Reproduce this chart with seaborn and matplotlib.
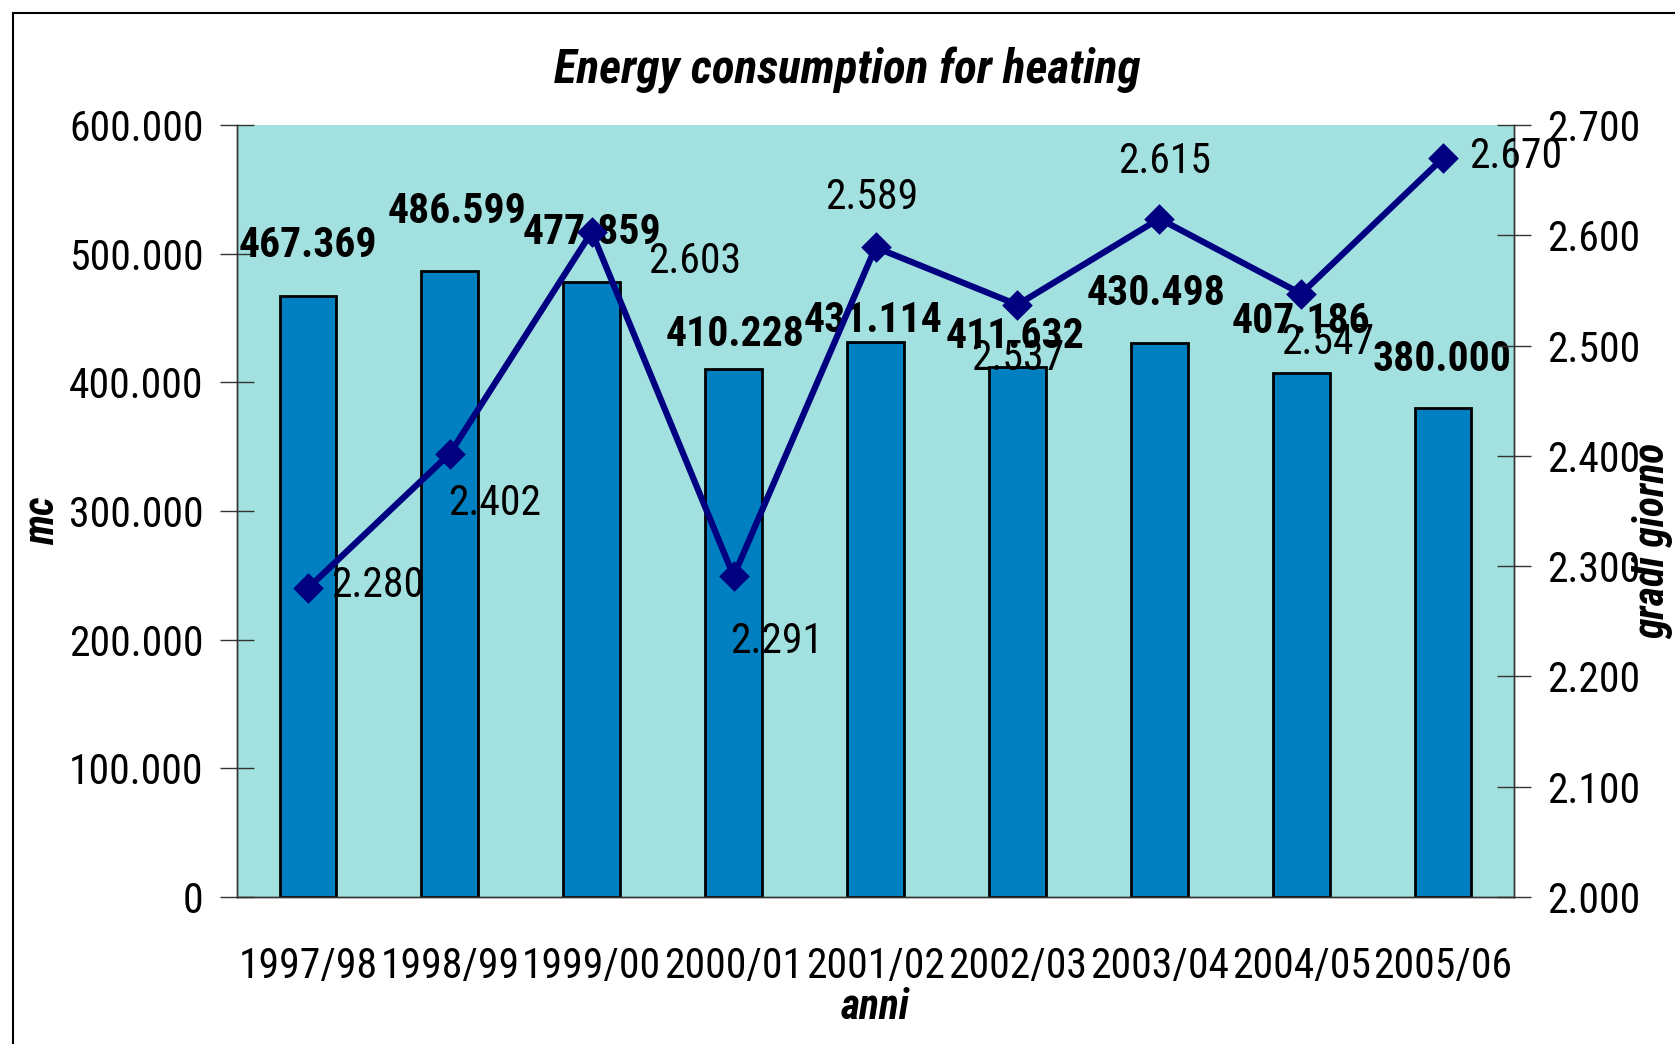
import matplotlib
matplotlib.use("Agg")
import matplotlib.pyplot as plt
from matplotlib.patches import Rectangle
from matplotlib.ticker import FuncFormatter, MultipleLocator
import seaborn as sns
import pandas as pd

# data
anni = ["1997/98", "1998/99", "1999/00", "2000/01", "2001/02",
        "2002/03", "2003/04", "2004/05", "2005/06"]
consumo_mc = [467369, 486599, 477859, 410228, 431114, 411632, 430498, 407186, 380000]
gradi_giorno = [2280, 2402, 2603, 2291, 2589, 2537, 2615, 2547, 2670]

df = pd.DataFrame({"anni": anni, "mc": consumo_mc, "gg": gradi_giorno})

# label placement (points) - labels were moved by hand in the original
bar_lbl_off = [(0, 36), (5, 43), (0, 36), (1, 25), (-2, 16), (-2, 22), (-2, 36), (0, 37), (-1, 35)]
line_lbl_off = [(50, 2), (32, -36), (74, -21), (31, -47), (-3, 36),
                (0, -39), (4, 41), (19, -35), (52, 1)]

sns.set_style("white")
plt.rcParams["font.family"] = ["Roboto Condensed", "DejaVu Sans"]
for k in ("text.color", "axes.labelcolor", "xtick.color", "ytick.color"):
    plt.rcParams[k] = "black"

def it_fmt(v, pos=None):
    return f"{v:,.0f}".replace(",", ".")

fs = 30
fig = plt.figure(figsize=(16.75, 10.44), dpi=100)
ax = fig.add_axes([0.1415, 0.1408, 0.7624, 0.7395])
ax.set_facecolor("#A3E0E0")

sns.barplot(data=df, x="anni", y="mc", ax=ax, color="#0080C0", saturation=1,
            width=0.4, edgecolor="black", linewidth=2)
ax.set_ylim(0, 600000)
ax.set_xlim(-0.5, 8.5)
ax.yaxis.set_major_locator(MultipleLocator(100000))
ax.yaxis.set_major_formatter(FuncFormatter(it_fmt))

for i, v in enumerate(consumo_mc):
    ax.annotate(it_fmt(v), (i, v), xytext=bar_lbl_off[i], textcoords="offset points",
                ha="center", va="center", fontsize=fs, fontweight="bold")

ax2 = ax.twinx()
sns.pointplot(data=df, x="anni", y="gg", ax=ax2, color="#000080", markers="D",
              markersize=12, linewidth=4.5)
ax2.set_ylim(2000, 2700)
ax2.set_xlim(-0.5, 8.5)
ax2.yaxis.set_major_locator(MultipleLocator(100))
ax2.yaxis.set_major_formatter(FuncFormatter(it_fmt))

for i, v in enumerate(gradi_giorno):
    ax2.annotate(it_fmt(v), (i, v), xytext=line_lbl_off[i], textcoords="offset points",
                 ha="center", va="center", fontsize=fs)

# x ticks between categories, labels at the centre
ax.set_xticks([x + 0.5 for x in range(-1, 9)], minor=False)
ax.set_xticklabels([])
ax.set_xticks(range(9), minor=True)
ax.set_xticklabels(anni, minor=True, fontsize=fs)
ax.tick_params(axis="x", which="major", direction="inout", length=30, width=1, color="black")
ax.tick_params(axis="x", which="minor", length=0, pad=35)
ax.tick_params(axis="y", direction="inout", length=24, width=1, color="#333333",
               labelsize=fs, pad=12, left=True)
ax2.tick_params(axis="y", direction="inout", length=24, width=1, color="#333333",
                labelsize=fs, pad=12, right=True)

ax.set_xlabel("anni", fontsize=fs, fontweight="bold", style="italic", labelpad=0)
ax.set_ylabel("mc", fontsize=fs, fontweight="bold", style="italic")
ax.yaxis.set_label_coords(-0.152, 0.488)
ax.yaxis.label.set_verticalalignment("center")
ax2.set_ylabel("gradi giorno", fontsize=fs, fontweight="bold", style="italic")
ax2.yaxis.set_label_coords(1.109, 0.462)
ax2.yaxis.label.set_verticalalignment("center")
fig.text(0.506, 0.933, "Energy consumption for heating", fontsize=34, fontweight="bold",
         style="italic", ha="center", va="center")

for a in (ax, ax2):
    a.spines["top"].set_visible(False)
    for s in ("left", "right", "bottom"):
        a.spines[s].set_color("#333333")
        a.spines[s].set_linewidth(1)
ax2.grid(False)
ax.grid(False)

fig.patches.append(Rectangle((0.0075, -0.02), 1.1, 1.008, transform=fig.transFigure,
                             fill=False, edgecolor="black", linewidth=1.5))

fig.savefig("out.png", dpi=100)
